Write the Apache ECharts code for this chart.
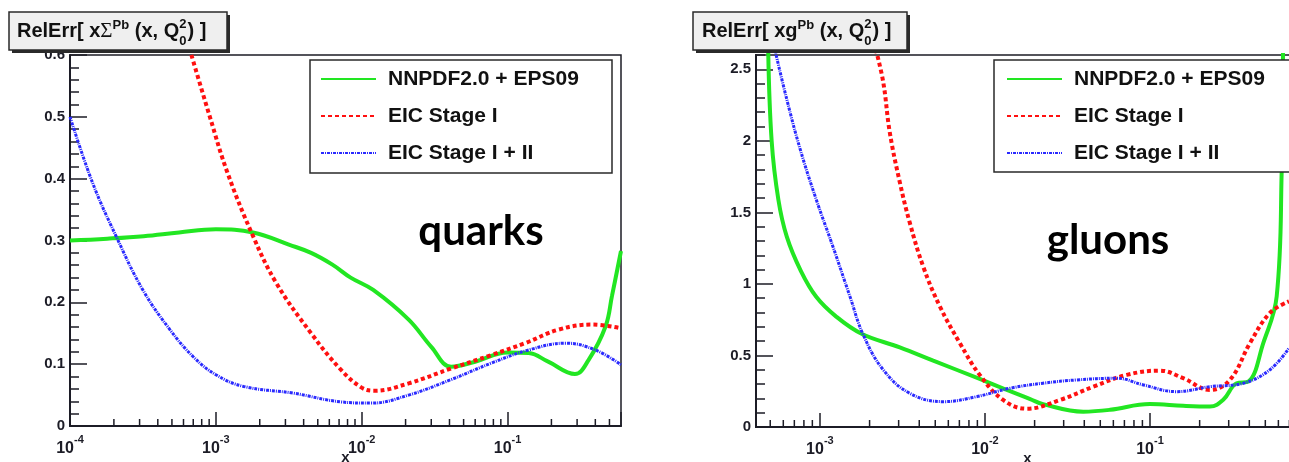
<!DOCTYPE html>
<html>
<head>
<meta charset="utf-8">
<script src="https://cdn.jsdelivr.net/npm/echarts@6/dist/echarts.min.js"></script>
<style>
  html, body { margin: 0; padding: 0; background: #ffffff; }
  #chart { width: 1289px; height: 462px; }
</style>
</head>
<body>
<div id="chart"></div>
<script>
// ---- data ---------------------------------------------------------------
const seriesNames = ['NNPDF2.0 + EPS09', 'EIC Stage I', 'EIC Stage I + II'];

// quarks: RelErr[ xΣ^Pb(x, Q0²) ]
const quarkXRange = [1e-4, 0.6];
const quarkYRange = [0, 0.6];
const quarkNnpdfX = [1e-4, 1.8e-4, 3.2e-4, 5.6e-4, 1e-3, 1.8e-3, 3.2e-3, 4.5e-3, 6.3e-3, 8.4e-3, 0.012, 0.021, 0.030, 0.041, 0.060, 0.10, 0.14, 0.19, 0.29, 0.36, 0.47, 0.52, 0.60];
const quarkNnpdfY = [0.300, 0.303, 0.307, 0.313, 0.318, 0.313, 0.293, 0.280, 0.261, 0.240, 0.220, 0.172, 0.128, 0.096, 0.104, 0.119, 0.118, 0.104, 0.084, 0.107, 0.161, 0.210, 0.283];
const quarkStage1X = [6.8e-4, 9.1e-4, 1.2e-3, 1.8e-3, 2.6e-3, 4.5e-3, 7.2e-3, 0.010, 0.0122, 0.021, 0.041, 0.078, 0.132, 0.225, 0.38, 0.60];
const quarkStage1Y = [0.60, 0.50, 0.41, 0.307, 0.231, 0.150, 0.091, 0.062, 0.057, 0.069, 0.093, 0.115, 0.134, 0.156, 0.164, 0.158];
const quarkStage12X = [1e-4, 1.43e-4, 2.07e-4, 3.16e-4, 4.84e-4, 7e-4, 1e-3, 1.55e-3, 3.43e-3, 7.2e-3, 0.0116, 0.021, 0.041, 0.078, 0.14, 0.25, 0.40, 0.60];
const quarkStage12Y = [0.50, 0.393, 0.307, 0.220, 0.156, 0.112, 0.083, 0.064, 0.053, 0.039, 0.037, 0.050, 0.075, 0.102, 0.123, 0.134, 0.123, 0.099];

// gluons: RelErr[ xg^Pb(x, Q0²) ]
const gluonXRange = [4.1e-4, 0.8];
const gluonYRange = [0, 2.6];
const gluonNnpdfX = [4.86e-4, 5.1e-4, 5.6e-4, 6.3e-4, 7.6e-4, 9.5e-4, 1.26e-3, 1.8e-3, 3.05e-3, 4.86e-3, 9.3e-3, 0.0142, 0.0188, 0.0225, 0.0394, 0.0573, 0.10, 0.159, 0.231, 0.278, 0.335, 0.394, 0.486, 0.586, 0.628, 0.64];
const gluonNnpdfY = [2.64, 2.0, 1.59, 1.33, 1.10, 0.91, 0.77, 0.65, 0.557, 0.464, 0.336, 0.25, 0.195, 0.16, 0.107, 0.12, 0.16, 0.148, 0.143, 0.19, 0.306, 0.317, 0.587, 0.913, 1.78, 2.7];
const gluonStage1X = [2.18e-3, 2.42e-3, 2.65e-3, 3.05e-3, 3.5e-3, 4.23e-3, 5.33e-3, 7.05e-3, 9.3e-3, 0.0129, 0.0179, 0.0285, 0.0454, 0.0723, 0.115, 0.159, 0.231, 0.305, 0.404, 0.533, 0.695];
const gluonStage1Y = [2.64, 2.41, 2.06, 1.71, 1.43, 1.12, 0.843, 0.586, 0.364, 0.189, 0.128, 0.189, 0.282, 0.364, 0.394, 0.341, 0.259, 0.329, 0.587, 0.797, 0.878];
const gluonStage12X = [5.33e-4, 6.3e-4, 7.6e-4, 9.5e-4, 1.2e-3, 1.52e-3, 1.83e-3, 2.42e-3, 3.5e-3, 5.6e-3, 8.9e-3, 0.0142, 0.0225, 0.036, 0.0628, 0.0912, 0.145, 0.231, 0.368, 0.533, 0.695];
const gluonStage12Y = [2.64, 2.29, 1.94, 1.59, 1.26, 0.913, 0.645, 0.40, 0.236, 0.177, 0.212, 0.271, 0.306, 0.329, 0.341, 0.294, 0.247, 0.282, 0.306, 0.40, 0.55];

// ---- styling ------------------------------------------------------------
const FONT = '"Liberation Sans", Arial, Helvetica, sans-serif';
const INK = '#1c1c26';
const MAIN_FONT = 'bold 20px "Liberation Sans", Arial, sans-serif';
const SUP_FONT = 'bold 13px "Liberation Sans", Arial, sans-serif';
const SIGMA_FONT = '21px "Liberation Serif", "DejaVu Serif", serif';

const lineStyles = [
  { color: '#22e622', width: 4, type: 'solid' },
  { color: '#ff1010', width: 4, type: [4, 3] },
  { color: '#2a2aff', width: 3, type: [3, 1, 1, 1] }
];

// x axis labels: 10^n at every decade, nothing elsewhere
function decadeLabel(v) {
  const e = Math.log10(v);
  const r = Math.round(e);
  if (Math.abs(e - r) > 1e-6) return '';
  return '{b|10}{s|' + r + '}';
}

function logXAxis(gridIndex, range) {
  return {
    type: 'log', logBase: 10, gridIndex: gridIndex,
    min: range[0], max: range[1],
    name: 'x', nameLocation: 'middle', nameGap: 24, nameMoveOverlap: false,
    nameTextStyle: { fontFamily: FONT, fontWeight: 'bold', fontSize: 15, color: INK },
    axisLine: { lineStyle: { color: INK, width: 2 } },
    axisTick: { inside: true, length: 14, lineStyle: { color: INK, width: 1.5 } },
    axisLabel: {
      formatter: decadeLabel, margin: 8, color: INK,
      rich: {
        b: { fontFamily: FONT, fontWeight: 'bold', fontSize: 16, lineHeight: 30, color: INK },
        s: { fontFamily: FONT, fontWeight: 'bold', fontSize: 11, lineHeight: 11, verticalAlign: 'top', color: INK }
      }
    },
    splitLine: { show: false },
    minorTick: { show: false },
    minorSplitLine: { show: false }
  };
}

function valueYAxis(gridIndex, range, interval, opts) {
  return Object.assign({
    type: 'value', gridIndex: gridIndex, position: 'left', offset: 0,
    min: range[0], max: range[1], interval: interval,
    axisLine: { show: true, lineStyle: { color: INK, width: 2 } },
    axisTick: { show: true, inside: true, length: 17, lineStyle: { color: INK, width: 1.5 } },
    axisLabel: { margin: 5, fontFamily: FONT, fontWeight: 'bold', fontSize: 15, color: INK },
    splitLine: { show: false }
  }, opts || {});
}

// minor ticks at 2..9 x 10^n inside the x range
function minorTicks(range) {
  const out = [];
  for (let e = Math.floor(Math.log10(range[0])); e <= Math.ceil(Math.log10(range[1])); e++) {
    for (let k = 2; k <= 9; k++) {
      const v = k * Math.pow(10, e);
      if (v > range[0] && v < range[1]) out.push([v, 0]);
    }
  }
  return out;
}

function minorTickSeries(xIdx, yIdx, range) {
  return {
    type: 'custom', xAxisIndex: xIdx, yAxisIndex: yIdx, silent: true, z: 3,
    data: minorTicks(range),
    renderItem: function (params, api) {
      const p = api.coord([api.value(0), api.value(1)]);
      return {
        type: 'line',
        shape: { x1: p[0], y1: p[1], x2: p[0], y2: p[1] - 7 },
        style: { stroke: INK, lineWidth: 1.5 }
      };
    }
  };
}

function curve(i, xs, ys, xIdx, yIdx) {
  return {
    type: 'line', name: seriesNames[i], xAxisIndex: xIdx, yAxisIndex: yIdx,
    data: xs.map(function (x, k) { return [x, ys[k]]; }),
    symbol: 'none', showSymbol: false, smooth: 0.4, clip: true,
    lineStyle: lineStyles[i], itemStyle: { color: lineStyles[i].color },
    z: 2 + i * 0.1
  };
}

// ---- title boxes built from text pieces -----------------------------------
const ruler = document.createElement('canvas').getContext('2d');
function widthOf(str, font) { ruler.font = font; return ruler.measureText(str).width; }
function txt(str, x, y, font) {
  return { type: 'text', x: x, y: y, z: 22,
    style: { text: str, font: font, fill: '#111', align: 'left', verticalAlign: 'middle' } };
}
function titleElements(x0, yMid, pieces) {
  const els = [];
  let x = x0;
  pieces.forEach(function (p) {
    if (p.stack) {
      els.push(txt(p.stack[0], x, yMid - 7, SUP_FONT));
      els.push(txt(p.stack[1], x, yMid + 10, SUP_FONT));
      x += Math.max(widthOf(p.stack[0], SUP_FONT), widthOf(p.stack[1], SUP_FONT)) + 1;
    } else {
      els.push(txt(p.t, x, yMid + (p.dy || 0), p.font));
      x += widthOf(p.t, p.font);
    }
  });
  return els;
}
function titleBox(x, y, w, h) {
  return [
    { type: 'rect', z: 20, shape: { x: x + 3, y: y + 3, width: w, height: h }, style: { fill: '#2a2a2a' } },
    { type: 'rect', z: 21, shape: { x: x, y: y, width: w, height: h }, style: { fill: '#efefef', stroke: '#2a2a2a', lineWidth: 1.5 } }
  ];
}

const quarkTitle = [
  { t: 'RelErr[ x', font: MAIN_FONT },
  { t: 'Σ', font: SIGMA_FONT },
  { t: 'Pb', font: SUP_FONT, dy: -6 },
  { t: ' (x, Q', font: MAIN_FONT },
  { stack: ['2', '0'] },
  { t: ') ]', font: MAIN_FONT }
];
const gluonTitle = [
  { t: 'RelErr[ xg', font: MAIN_FONT },
  { t: 'Pb', font: SUP_FONT, dy: -6 },
  { t: ' (x, Q', font: MAIN_FONT },
  { stack: ['2', '0'] },
  { t: ') ]', font: MAIN_FONT }
];

const legendFrame = function (x, y, w, h) {
  return { type: 'rect', z: 5, shape: { x: x, y: y, width: w, height: h },
    style: { fill: '#ffffff', stroke: '#2a2a2a', lineWidth: 1.5 } };
};

const graphics = []
  .concat(titleBox(9, 12, 218, 38), titleElements(17, 31, quarkTitle))
  .concat(titleBox(693, 12, 214, 38), titleElements(702, 31, gluonTitle))
  .concat([
    legendFrame(310, 60, 302, 113),
    legendFrame(994, 60, 302, 112),
    { type: 'text', x: 481, y: 231, z: 6,
      style: { text: 'quarks', font: 'bold 42px Lato, "Open Sans", sans-serif', fill: '#000', align: 'center', verticalAlign: 'middle' } },
    { type: 'text', x: 1108, y: 240, z: 6,
      style: { text: 'gluons', font: 'bold 42px Lato, "Open Sans", sans-serif', fill: '#000', align: 'center', verticalAlign: 'middle' } }
  ]);

function legendAt(left) {
  return {
    data: seriesNames, orient: 'vertical', left: left, top: 67, padding: 0,
    itemWidth: 55, itemHeight: 14, itemGap: 13, selectedMode: false, z: 10,
    itemStyle: { opacity: 0 },
    textStyle: { fontFamily: FONT, fontWeight: 'bold', fontSize: 21, lineHeight: 24, color: '#111', padding: [0, 0, 0, 7] }
  };
}

// ---- chart --------------------------------------------------------------
const chart = echarts.init(document.getElementById('chart'), null, { renderer: 'canvas' });
chart.setOption({
  animation: false,
  backgroundColor: '#ffffff',
  grid: [
    { left: 70, top: 55, width: 551, height: 371, outerBoundsMode: 'none', containLabel: false,
      show: true, borderColor: INK, borderWidth: 1.5, backgroundColor: 'transparent' },
    { left: 756, top: 55, width: 543, height: 372, outerBoundsMode: 'none', containLabel: false,
      show: true, borderColor: INK, borderWidth: 1.5, backgroundColor: 'transparent' }
  ],
  xAxis: [logXAxis(0, quarkXRange), logXAxis(1, gluonXRange)],
  yAxis: [
    valueYAxis(0, quarkYRange, 0.1, {
      minorTick: { show: true, splitNumber: 5, length: 9, lineStyle: { color: INK, width: 1.5 } }
    }),
    // fine ticks every 0.1 on the gluon panel
    valueYAxis(1, gluonYRange, 0.1, {
      axisTick: { show: true, inside: true, length: 9, lineStyle: { color: INK, width: 1.5 } },
      axisLabel: { show: false }
    }),
    // labelled ticks every 0.5 on the gluon panel
    valueYAxis(1, gluonYRange, 0.5, {
      axisLabel: { margin: 5, fontFamily: FONT, fontWeight: 'bold', fontSize: 15, color: INK, showMaxLabel: false }
    })
  ],
  legend: [legendAt(320), legendAt(1006)],
  graphic: { elements: graphics },
  series: [
    curve(0, quarkNnpdfX, quarkNnpdfY, 0, 0),
    curve(1, quarkStage1X, quarkStage1Y, 0, 0),
    curve(2, quarkStage12X, quarkStage12Y, 0, 0),
    curve(0, gluonNnpdfX, gluonNnpdfY, 1, 1),
    curve(1, gluonStage1X, gluonStage1Y, 1, 1),
    curve(2, gluonStage12X, gluonStage12Y, 1, 1),
    minorTickSeries(0, 0, quarkXRange),
    minorTickSeries(1, 1, gluonXRange)
  ]
});
</script>
</body>
</html>
